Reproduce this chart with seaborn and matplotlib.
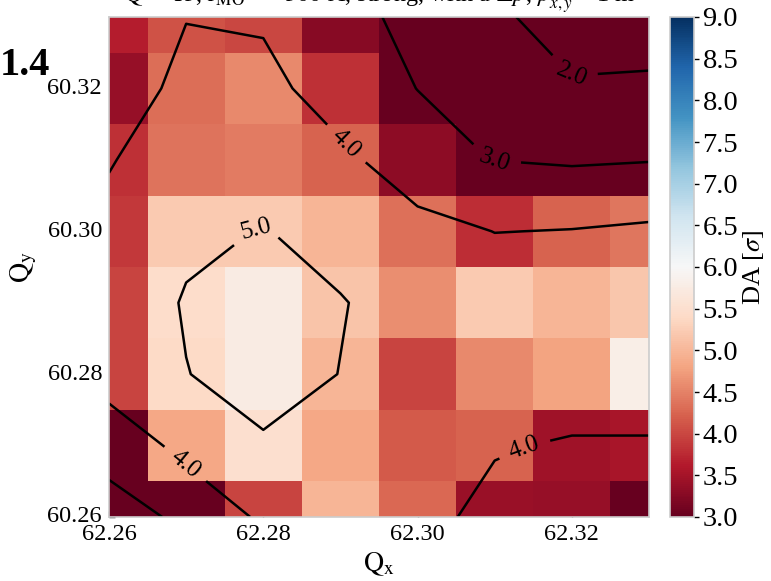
import numpy as np
import pandas as pd
import matplotlib
matplotlib.use("Agg")
import matplotlib.pyplot as plt
from matplotlib.ticker import FormatStrFormatter
import seaborn as sns

# Tune scan grid
qx = [62.26, 62.27, 62.28, 62.29, 62.30, 62.31, 62.32, 62.33]
qy = [60.26, 60.27, 60.28, 60.29, 60.30, 60.31, 60.32, 60.33]

# Minimum dynamic aperture per working point [sigma]; rows follow qy (low to high)
da_min = [
    [2.80, 2.80, 3.98, 4.97, 4.27, 3.41, 3.38, 2.90],
    [2.90, 4.83, 5.49, 4.83, 4.16, 4.22, 3.46, 3.52],
    [3.97, 5.40, 5.76, 4.97, 3.98, 4.56, 4.80, 5.80],
    [3.97, 5.45, 5.76, 5.15, 4.60, 5.22, 4.98, 5.17],
    [3.88, 5.22, 5.22, 4.97, 4.35, 3.78, 4.24, 4.40],
    [3.80, 4.38, 4.45, 4.23, 3.32, 2.80, 2.70, 2.70],
    [3.38, 4.32, 4.55, 3.80, 2.90, 2.40, 2.00, 2.20],
    [3.65, 4.10, 4.00, 3.26, 2.70, 2.30, 1.50, 1.40],
]

# Smoothed DA map used for the iso-DA lines
da_smooth = [
    [2.742, 3.116, 4.180, 4.600, 4.380, 3.650, 3.500, 3.300],
    [3.238, 4.327, 4.907, 4.700, 4.400, 4.093, 3.886, 3.853],
    [4.530, 4.979, 5.330, 4.986, 4.300, 4.600, 4.700, 4.900],
    [4.400, 5.067, 5.500, 5.038, 4.690, 4.900, 4.700, 4.800],
    [4.180, 4.830, 5.030, 4.746, 4.460, 3.980, 4.034, 4.155],
    [3.960, 4.360, 4.600, 4.350, 3.140, 2.990, 2.900, 2.965],
    [3.600, 4.190, 4.500, 3.180, 2.996, 2.600, 2.300, 2.500],
    [3.500, 3.980, 3.790, 3.250, 2.790, 2.530, 0.630, 0.500],
]

contour_levels = [2.0, 3.0, 4.0, 5.0]
qx_ticks = [62.26, 62.28, 62.30, 62.32]
qy_ticks = [60.26, 60.28, 60.30, 60.32]
cbar_ticks = [3.0, 3.5, 4.0, 4.5, 5.0, 5.5, 6.0, 6.5, 7.0, 7.5, 8.0, 8.5, 9.0]

# where the contour labels sit (Qx, Qy)
label_spots = [
    (62.2907, 60.3122),
    (62.3100, 60.3105),
    (62.3199, 60.3219),
    (62.2793, 60.2996),
    (62.2701, 60.2677),
    (62.3137, 60.2700),
]

sns.set_style("whitegrid")
plt.rcParams.update({
    "font.family": "serif",
    "font.serif": ["Liberation Serif", "DejaVu Serif"],
    "mathtext.fontset": "stix",
    "text.color": "black",
    "axes.labelcolor": "black",
    "xtick.color": "black",
    "ytick.color": "black",
})

W, H = 771, 581
fig = plt.figure(figsize=(W / 100, H / 100), dpi=100)
ax = fig.add_axes([109 / W, 1 - 517 / H, 540 / W, 500 / H])
cax = fig.add_axes([669.5 / W, 1 - 517 / H, 24 / W, 500 / H])

df = pd.DataFrame(da_min, index=qy, columns=qx)
sns.heatmap(df, ax=ax, cmap="RdBu", vmin=3, vmax=9, cbar_ax=cax,
            cbar_kws={"ticks": cbar_ticks})
ax.invert_yaxis()


def to_cell(vals, grid):
    """Map tune values onto heatmap cell-centre coordinates."""
    step = grid[1] - grid[0]
    return (np.asarray(vals, dtype=float) - grid[0]) / step + 0.5


xc = to_cell(qx, qx)
yc = to_cell(qy, qy)

cs = ax.contour(xc, yc, np.array(da_smooth), levels=contour_levels,
                colors="black", linewidths=1.8)
spots = [(to_cell([sx], qx)[0], to_cell([sy], qy)[0]) for sx, sy in label_spots]
ax.clabel(cs, fmt="%.1f", fontsize=18, manual=spots, inline=True, inline_spacing=8)

ax.set_xlim(xc[0], xc[-1])
ax.set_ylim(yc[0], yc[-1])
ax.set_xticks(to_cell(qx_ticks, qx))
ax.set_xticklabels([f"{t:.2f}" for t in qx_ticks], rotation=0)
ax.set_yticks(to_cell(qy_ticks, qy))
ax.set_yticklabels([f"{t:.2f}" for t in qy_ticks], rotation=0)
ax.tick_params(axis="both", which="major", direction="in", length=4, width=1,
               labelsize=17.5, bottom=True, left=True, top=False, right=False, pad=5)
ax.grid(False)
for sp in ax.spines.values():
    sp.set_visible(True)
    sp.set_color("0.8")
    sp.set_linewidth(1.2)

ax.set_xlabel(r"$\mathrm{Q_x}$", fontsize=20, labelpad=4)
ax.set_ylabel(r"$\mathrm{Q_y}$", fontsize=20, labelpad=6)
ax.set_title(r"$\mathrm{Q}'=15$, $I_{\mathrm{MO}}=-300$ A, strong, with a $\Delta p$, $\beta^*_{x,y}=$1 m",
             fontsize=17.5, pad=10.5)

cbar = ax.collections[0].colorbar
cbar.outline.set_visible(True)
cbar.outline.set_linewidth(1.2)
cbar.outline.set_edgecolor("0.8")
cbar.ax.yaxis.set_major_formatter(FormatStrFormatter("%.1f"))
cbar.ax.tick_params(direction="out", length=3.5, width=1, labelsize=20.5, right=True, pad=3)
cbar.set_label(r"DA [$\sigma$]", fontsize=19, labelpad=2)

fig.text(0.0, 1 - 75 / H, "1.4", fontsize=29, fontweight="bold", ha="left", va="baseline")

fig.savefig("out.png", dpi=100)
